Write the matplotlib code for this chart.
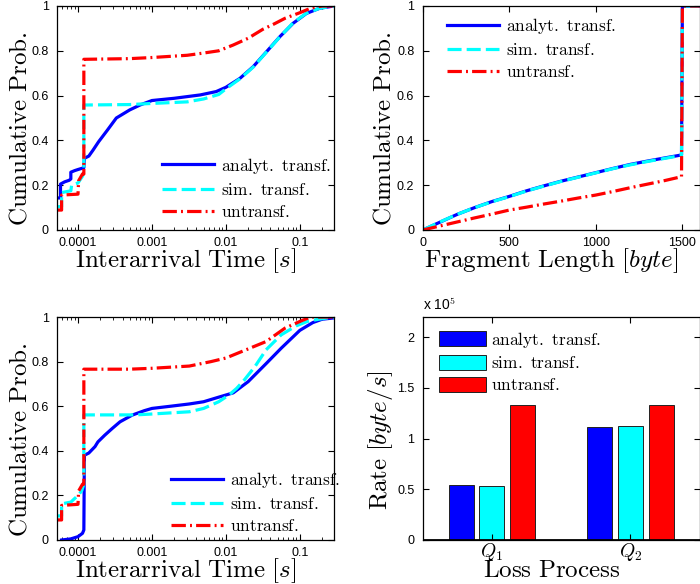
import matplotlib
matplotlib.use('Agg')
import matplotlib.pyplot as plt
from matplotlib.ticker import FixedLocator, FuncFormatter, LogLocator, NullFormatter
import numpy as np

plt.rcParams['mathtext.fontset'] = 'cm'
plt.rcParams['font.family'] = ['Liberation Sans', 'DejaVu Sans']

# ---- data ----
# top left: interarrival time CDF (seconds)
tl_analyt_x = [5.2e-5, 5.8e-5, 5.8e-5, 6.6e-5, 7.6e-5, 8.0e-5, 8.0e-5, 9.0e-5, 1.0e-4, 1.2e-4, 1.22e-4, 1.4e-4, 1.6e-4,
               1.9e-4, 2.5e-4, 3.3e-4, 5.0e-4, 6.9e-4, 1e-3, 2e-3, 4.5e-3, 7.4e-3, 0.01, 0.0155, 0.0234, 0.0355,
               0.0537, 0.0813, 0.123, 0.186, 0.29]
tl_analyt_y = [0.143, 0.143, 0.205, 0.215, 0.222, 0.228, 0.258, 0.265, 0.27, 0.278, 0.32, 0.33, 0.357,
               0.394, 0.446, 0.50, 0.536, 0.558, 0.578, 0.588, 0.603, 0.618, 0.637, 0.677, 0.729, 0.796,
               0.863, 0.923, 0.967, 0.99, 1.0]
tl_sim_x = [5.2e-5, 6.0e-5, 6.0e-5, 8.0e-5, 8.2e-5, 1.0e-4, 1.15e-4, 1.2e-4, 1.2e-4, 5e-4, 1e-3, 3e-3, 5e-3, 8e-3,
            0.01, 0.0155, 0.0234, 0.0355, 0.0537, 0.0813, 0.123, 0.186, 0.29]
tl_sim_y = [0.104, 0.104, 0.167, 0.175, 0.20, 0.21, 0.24, 0.26, 0.558, 0.56, 0.565, 0.572, 0.585, 0.605,
            0.63, 0.675, 0.727, 0.795, 0.862, 0.925, 0.968, 0.99, 1.0]
tl_untr_x = [5.2e-5, 6.0e-5, 6.0e-5, 1.0e-4, 1.02e-4, 1.15e-4, 1.2e-4, 1.2e-4, 5e-4, 1e-3, 3e-3, 5e-3, 8e-3,
             0.0126, 0.02, 0.0316, 0.045, 0.063, 0.1, 0.14, 0.2, 0.29]
tl_untr_y = [0.089, 0.089, 0.156, 0.16, 0.22, 0.25, 0.25, 0.762, 0.765, 0.77, 0.78, 0.79, 0.80,
             0.826, 0.856, 0.896, 0.92, 0.945, 0.97, 0.99, 1.0, 1.0]

# top right: fragment length CDF (byte)
frag_len = [0, 100, 200, 300, 400, 500, 600, 700, 800, 900, 1000, 1100, 1200, 1300, 1400, 1495, 1500, 1600]
frag_analyt = [0, .035, .07, .10, .127, .15, .175, .197, .218, .237, .256, .275, .293, .308, .322, .335, 1, 1]
frag_sim = [0, .036, .07, .10, .126, .149, .174, .196, .217, .236, .255, .274, .291, .306, .32, .333, 1, 1]
frag_untr = [0, .018, .036, .054, .071, .089, .102, .116, .129, .143, .156, .172, .189, .205, .221, .238, 1, 1]

# bottom left: interarrival time CDF, second loss process
bl_analyt_x = [6e-5, 8e-5, 1e-4, 1.15e-4, 1.2e-4, 1.22e-4, 1.4e-4, 1.7e-4, 1.86e-4, 2.3e-4, 2.9e-4, 3.7e-4,
               5.4e-4, 7.9e-4, 1e-3, 1.8e-3, 3.2e-3, 5e-3, 7.9e-3, 0.0126, 0.02, 0.0355, 0.056, 0.1, 0.15,
               0.2, 0.29]
bl_analyt_y = [0.0, 0.005, 0.015, 0.03, 0.045, 0.38, 0.39, 0.419, 0.44, 0.47, 0.50, 0.53,
               0.56, 0.58, 0.59, 0.60, 0.61, 0.62, 0.64, 0.66, 0.71, 0.793, 0.86, 0.94, 0.975,
               0.99, 0.996]
bl_sim_x = [5.2e-5, 6e-5, 6e-5, 8e-5, 1e-4, 1.12e-4, 1.2e-4, 1.2e-4, 6e-4, 1e-3, 3.2e-3, 5e-3, 8e-3, 0.011,
            0.014, 0.018, 0.025, 0.035, 0.056, 0.089, 0.126, 0.18, 0.29]
bl_sim_y = [0.108, 0.108, 0.162, 0.17, 0.20, 0.22, 0.25, 0.561, 0.561, 0.565, 0.575, 0.59, 0.62, 0.65,
            0.68, 0.72, 0.78, 0.853, 0.92, 0.96, 0.98, 0.99, 1.0]
bl_untr_x = [5.2e-5, 6e-5, 6e-5, 1e-4, 1.02e-4, 1.15e-4, 1.2e-4, 1.2e-4, 5e-4, 1e-3, 3.2e-3, 6.3e-3, 0.01,
             0.0178, 0.035, 0.063, 0.1, 0.14, 0.29]
bl_untr_y = [0.09, 0.09, 0.155, 0.16, 0.22, 0.25, 0.25, 0.766, 0.766, 0.77, 0.78, 0.80, 0.816,
             0.85, 0.89, 0.95, 0.98, 1.0, 1.0]

# bottom right: rates per loss process [byte/s]
loss_proc = [r'$Q_1$', r'$Q_2$']
rate_analyt = [0.54e5, 1.11e5]
rate_sim = [0.535e5, 1.125e5]
rate_untr = [1.335e5, 1.335e5]

labels = [r'$\mathrm{analyt.\ transf.}$', r'$\mathrm{sim.\ transf.}$', r'$\mathrm{untransf.}$']
BLUE, CYAN, RED = (0, 0, 1), (0, 1, 1), (1, 0, 0)
LW = 2.3
LABEL_FS = 18
TICK_FS = 9
LEG_FS = 12.5

W, H = 700, 584
fig = plt.figure(figsize=(W / 100, H / 100), dpi=100)


def px_axes(left, top, width, height):
    return fig.add_axes([left / W, 1 - (top + height) / H, width / W, height / H])


def style_axes(ax):
    ax.tick_params(direction='in', top=True, right=True, labelsize=TICK_FS, length=4, width=0.8, pad=6)
    ax.tick_params(axis='x', pad=5)
    ax.tick_params(which='minor', direction='in', top=True, right=True, length=2, width=0.6)
    for s in ax.spines.values():
        s.set_linewidth(0.9)


def set_labels(ax, xlabel, ylabel, ylab_x):
    ax.set_xlabel(xlabel, fontsize=LABEL_FS)
    ax.set_ylabel(ylabel, fontsize=LABEL_FS)
    ax.xaxis.set_label_coords(0.465, -0.072)
    ax.yaxis.set_label_coords(ylab_x, 0.45)


def cdf_axes(ax):
    ax.set_xscale('log')
    ax.set_xlim(5.2e-5, 0.29)
    ax.set_ylim(0, 1)
    ax.xaxis.set_major_locator(FixedLocator([1e-4, 1e-3, 1e-2, 1e-1]))
    ax.xaxis.set_major_formatter(FuncFormatter(lambda v, p: '%g' % v if v >= 1e-3 else '0.0001'))
    ax.xaxis.set_minor_locator(LogLocator(base=10, subs=np.arange(2, 10)))
    ax.xaxis.set_minor_formatter(NullFormatter())
    ax.yaxis.set_major_locator(FixedLocator([0, 0.2, 0.4, 0.6, 0.8, 1]))
    ax.yaxis.set_major_formatter(FuncFormatter(lambda v, p: '%g' % v))
    style_axes(ax)
    set_labels(ax, r'$\mathrm{Interarrival\ Time}\ [s]$', r'$\mathrm{Cumulative\ Prob.}$', -0.092)


def draw_lines(ax, xa, ya, xs, ys, xu, yu):
    ax.plot(xa, ya, color=BLUE, lw=LW, label=labels[0])
    ax.plot(xs, ys, color=CYAN, lw=LW, ls=(0, (4.4, 1.6)), label=labels[1])
    ax.plot(xu, yu, color=RED, lw=LW, ls=(0, (4.5, 1.3, 0.6, 1.3)), label=labels[2])


def line_legend(ax, loc, anchor):
    ax.legend(loc=loc, bbox_to_anchor=anchor, frameon=False, fontsize=LEG_FS, handlelength=3.0,
              handletextpad=0.4, labelspacing=0.35, borderaxespad=0)


# top left
ax1 = px_axes(57, 6, 277, 224)
draw_lines(ax1, tl_analyt_x, tl_analyt_y, tl_sim_x, tl_sim_y, tl_untr_x, tl_untr_y)
cdf_axes(ax1)
line_legend(ax1, 'lower left', (0.355, 0.015))

# top right
ax2 = px_axes(422.7, 6, 277, 224)
draw_lines(ax2, frag_len, frag_analyt, frag_len, frag_sim, frag_len, frag_untr)
ax2.set_xlim(0, 1600)
ax2.set_ylim(0, 1)
ax2.xaxis.set_major_locator(FixedLocator([0, 500, 1000, 1500]))
ax2.yaxis.set_major_locator(FixedLocator([0, 0.2, 0.4, 0.6, 0.8, 1]))
ax2.yaxis.set_major_formatter(FuncFormatter(lambda v, p: '%g' % v))
style_axes(ax2)
set_labels(ax2, r'$\mathrm{Fragment\ Length}\ [byte]$', r'$\mathrm{Cumulative\ Prob.}$', -0.097)
line_legend(ax2, 'upper left', (0.063, 0.985))

# bottom left
ax3 = px_axes(57, 317, 277, 223)
draw_lines(ax3, bl_analyt_x, bl_analyt_y, bl_sim_x, bl_sim_y, bl_untr_x, bl_untr_y)
cdf_axes(ax3)
line_legend(ax3, 'lower left', (0.385, -0.005))

# bottom right
ax4 = px_axes(422.7, 317, 277, 223)
pos = np.arange(1, len(loss_proc) + 1)
off, bw = 0.223, 0.18
ax4.bar(pos - off, rate_analyt, bw, color=BLUE, edgecolor='#222222', lw=0.7, label=labels[0])
ax4.bar(pos, rate_sim, bw, color=CYAN, edgecolor='#222222', lw=0.7, label=labels[1])
ax4.bar(pos + off, rate_untr, bw, color=RED, edgecolor='#222222', lw=0.7, label=labels[2])
ax4.axhline(0, color='black', lw=2)
ax4.set_xlim(0.5, 2.5)
ax4.set_ylim(0, 2.2e5)
ax4.set_xticks(pos)
ax4.set_xticklabels(loss_proc)
ax4.yaxis.set_major_locator(FixedLocator([0, 0.5e5, 1e5, 1.5e5, 2e5]))
ax4.yaxis.set_major_formatter(FuncFormatter(lambda v, p: '%g' % (v / 1e5)))
style_axes(ax4)
ax4.tick_params(axis='x', pad=1, labelsize=14)
set_labels(ax4, r'$\mathrm{Loss\ Process}$', r'$\mathrm{Rate}\ [byte/s]$', -0.1)
ax4.xaxis.set_label_coords(0.465, -0.08)
ax4.text(0.0, 1.02, r'x 10$^{5}$', transform=ax4.transAxes, fontsize=10, ha='left', va='bottom')
ax4.legend(loc='upper left', bbox_to_anchor=(0.035, 0.975), frameon=False, fontsize=LEG_FS, handlelength=2.7,
           handleheight=1.0, handletextpad=0.3, labelspacing=0.3, borderaxespad=0)

fig.savefig('out.png', dpi=100)
